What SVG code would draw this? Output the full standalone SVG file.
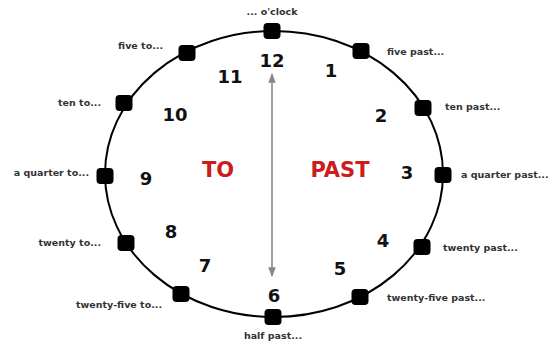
<svg xmlns="http://www.w3.org/2000/svg" width="550" height="345" viewBox="0 0 550 345">
<defs>
<style>
.num{font-family:"DejaVu Sans",Verdana,sans-serif;font-weight:bold;font-size:18px;fill:#111;text-anchor:middle}
.lbl{font-family:"DejaVu Sans",Verdana,sans-serif;font-weight:bold;font-size:9.5px;fill:#333}
.big{font-family:"DejaVu Sans",Verdana,sans-serif;font-weight:bold;font-size:21px;fill:#cc1c1c;text-anchor:middle}
.mark{fill:#000}
</style>
<marker id="ah" viewBox="0 0 10 10" refX="9" refY="5" markerWidth="6" markerHeight="6" orient="auto-start-reverse">
<path d="M0,1 L10,5 L0,9 z" fill="#888"/>
</marker>
<rect id="sq" x="-8.5" y="-8" width="17" height="16" rx="4"/>
</defs>
<rect width="550" height="345" fill="#fff"/>
<g id="connectors">
<ellipse cx="274" cy="174" rx="169" ry="143" fill="none" stroke="#000" stroke-width="2"/>
<line x1="272" y1="74" x2="272" y2="276" stroke="#888" stroke-width="1.6" marker-start="url(#ah)" marker-end="url(#ah)"/>
</g>
<g id="n12"><use href="#sq" x="272" y="31" class="mark"/><text class="lbl" x="272" y="15" text-anchor="middle">... o'clock</text><text class="num" x="272" y="67">12</text></g>
<g id="n1"><use href="#sq" x="361" y="51" class="mark"/><text class="lbl" x="387" y="55">five past...</text><text class="num" x="331" y="77">1</text></g>
<g id="n2"><use href="#sq" x="423" y="108" class="mark"/><text class="lbl" x="445" y="110">ten past...</text><text class="num" x="381" y="122">2</text></g>
<g id="n3"><use href="#sq" x="443" y="175" class="mark"/><text class="lbl" x="461" y="178">a quarter past...</text><text class="num" x="407" y="179">3</text></g>
<g id="n4"><use href="#sq" x="422" y="247" class="mark"/><text class="lbl" x="443" y="251">twenty past...</text><text class="num" x="383" y="247">4</text></g>
<g id="n5"><use href="#sq" x="360" y="297" class="mark"/><text class="lbl" x="387" y="301">twenty-five past...</text><text class="num" x="340" y="275">5</text></g>
<g id="n6"><use href="#sq" x="273" y="317" class="mark"/><text class="lbl" x="273" y="339" text-anchor="middle">half past...</text><text class="num" x="274" y="302">6</text></g>
<g id="n7"><use href="#sq" x="181" y="294" class="mark"/><text class="lbl" x="162" y="308" text-anchor="end">twenty-five to...</text><text class="num" x="205" y="272">7</text></g>
<g id="n8"><use href="#sq" x="126" y="243" class="mark"/><text class="lbl" x="101" y="246" text-anchor="end">twenty to...</text><text class="num" x="171" y="238">8</text></g>
<g id="n9"><use href="#sq" x="105" y="176" class="mark"/><text class="lbl" x="89" y="176" text-anchor="end">a quarter to...</text><text class="num" x="146" y="185">9</text></g>
<g id="n10"><use href="#sq" x="124" y="103" class="mark"/><text class="lbl" x="101" y="106" text-anchor="end">ten to...</text><text class="num" x="175" y="121">10</text></g>
<g id="n11"><use href="#sq" x="187" y="53" class="mark"/><text class="lbl" x="163" y="49" text-anchor="end">five to...</text><text class="num" x="230" y="83">11</text></g>
<g id="to"><text class="big" x="218" y="177">TO</text></g>
<g id="past"><text class="big" x="340" y="177">PAST</text></g>
</svg>
